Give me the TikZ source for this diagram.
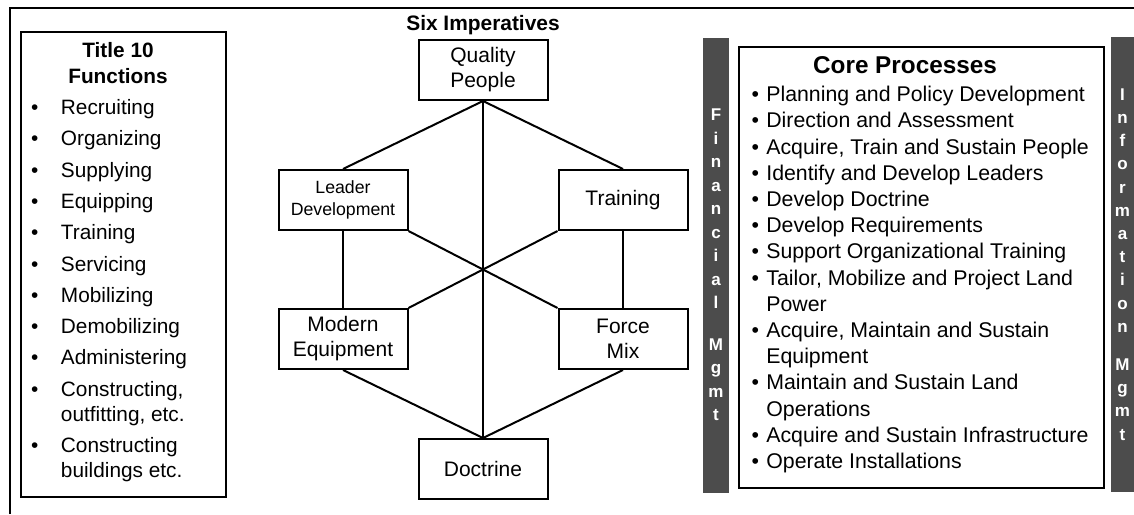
\documentclass[tikz,border=0pt]{standalone}
\usepackage{fontspec}
\setmainfont{Liberation Sans}
\usetikzlibrary{positioning}

\tikzset{
  imp/.style={draw, line width=2pt, minimum width=129pt, minimum height=60pt, align=center, inner sep=2pt, font=\fontsize{21}{25}\selectfont},
  panel/.style={draw, line width=1.8pt},
  mgmt/.style={fill=black!70, minimum width=26pt, minimum height=455pt, inner sep=0pt, text=white, align=center, font=\bfseries\fontsize{17}{23.5}\selectfont},
  link/.style={line width=2pt},
}

\begin{document}
\begin{tikzpicture}[x=1pt, y=-1pt]
  \useasboundingbox (0,0) rectangle (1134,514);
  % outer frame
  \draw [line width=1.5pt] (10,514) -- (10,8) -- (1134,8);

  % title 10 functions
  \node (fn) [panel, minimum width=205pt, minimum height=465pt] at (123.5,264.5) {};
  \node (fntitle) [align=center, font=\bfseries\fontsize{20.8}{26}\selectfont] at (118,63) {Title 10\\Functions};
  \node (fnlist) [anchor=base west, inner sep=0pt, font=\fontsize{20.8}{25}\selectfont] at (31,114.5) {%
    \begin{tabular}[t]{@{}l@{\hspace{22.5pt}}l@{}}
    • & Recruiting\\[6.3pt]
    • & Organizing\\[6.3pt]
    • & Supplying\\[6.3pt]
    • & Equipping\\[6.3pt]
    • & Training\\[6.3pt]
    • & Servicing\\[6.3pt]
    • & Mobilizing\\[6.3pt]
    • & Demobilizing\\[6.3pt]
    • & Administering\\[6.3pt]
    • & Constructing,\\
      & outfitting, etc.\\[6.3pt]
    • & Constructing\\
      & buildings etc.
    \end{tabular}};

  % six imperatives
  \node (six) [font=\bfseries\fontsize{20.9}{25}\selectfont] at (483,25) {Six Imperatives};
  \node (qp) [imp] at (483,70) {Quality\\People};
  \node (ld) [imp, below=68pt of qp, xshift=-140pt, font=\fontsize{17.7}{22}\selectfont] {Leader\\Development};
  \node (tr) [imp, below=68pt of qp, xshift=140pt] {Training};
  \node (me) [imp, below=77pt of ld] {Modern\\Equipment};
  \node (fm) [imp, below=77pt of tr] {Force\\Mix};
  \node (dc) [imp, below=68pt of me, xshift=140pt] {Doctrine};

  \draw [link] (qp.south) -- (dc.north);
  \draw [link] (qp.south) -- (ld.north);
  \draw [link] (qp.south) -- (tr.north);
  \draw [link] (ld.south) -- (me.north);
  \draw [link] (tr.south) -- (fm.north);
  \draw [link] (me.south) -- (dc.north);
  \draw [link] (fm.south) -- (dc.north);
  \draw [link] (ld.south east) -- (fm.north west);
  \draw [link] (tr.south west) -- (me.north east);

  % mgmt bars
  \node (fin) [mgmt] at (716,265) {F\\i\\n\\a\\n\\c\\i\\a\\l\\[18pt]M\\g\\m\\t};
  \node (inf) [mgmt, minimum width=23pt, font=\bfseries\fontsize{17}{23.2}\selectfont] at (1122.5,264.5) {I\\n\\f\\o\\r\\m\\a\\t\\i\\o\\n\\[15pt]M\\g\\m\\t};

  % core processes
  \node (cp) [panel, minimum width=365pt, minimum height=441pt] at (921.5,267.5) {};
  \node (cptitle) [font=\bfseries\fontsize{24.3}{28}\selectfont] at (905,65) {Core Processes};
  \node (cplist) [anchor=base west, inner sep=0pt, font=\fontsize{21.3}{26.2}\selectfont] at (751.4,101.6) {%
    \begin{tabular}[t]{@{}l@{\hspace{7.3pt}}l@{}}
    • & Planning and Policy Development\\
    • & Direction and Assessment\\
    • & Acquire, Train and Sustain People\\
    • & Identify and Develop Leaders\\
    • & Develop Doctrine\\
    • & Develop Requirements\\
    • & Support Organizational Training\\
    • & Tailor, Mobilize and Project Land\\
      & Power\\
    • & Acquire, Maintain and Sustain\\
      & Equipment\\
    • & Maintain and Sustain Land\\
      & Operations\\
    • & Acquire and Sustain Infrastructure\\
    • & Operate Installations
    \end{tabular}};
\end{tikzpicture}
\end{document}
